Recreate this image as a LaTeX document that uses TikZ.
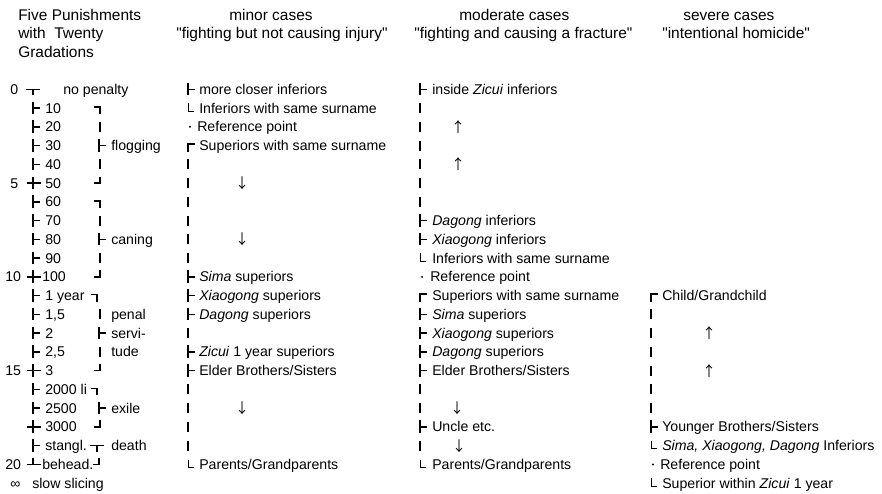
\documentclass[tikz,border=0pt]{standalone}
\usepackage{fontspec}
\setmainfont{Liberation Sans}
\newfontfamily\cjk{Noto Sans CJK JP}
\usetikzlibrary{arrows.meta}
\newcommand{\rowy}[1]{89.3+18.76*#1}
\newcommand{\qq}[1]{\textquotedbl#1\textquotedbl}
\tikzset{
  boxline/.style={line width=1.1pt},
  boxthin/.style={line width=.6pt},
  body/.style={inner sep=0pt,anchor=base west,font=\fontsize{10.6}{12}\selectfont},
  head/.style={inner sep=0pt,anchor=base west,font=\fontsize{11.6}{14}\selectfont},
  arrowmark/.style={inner sep=0pt,font=\cjk\fontsize{10.5}{10.5}\selectfont},
  vbar/.pic={\draw[boxline] (0,-5) -- (0,5);},
  tee/.pic={\draw[boxline] (0,-6.5) -- (0,6) (0,0) -- (7,0);},
  cross/.pic={\draw[boxline] (0,-6.5) -- (0,6) (-6,0) -- (8,0);},
  tdown/.pic={\draw[boxline] (-7,0) -- (7,0) (0,0) -- (0,6);},
  tup/.pic={\draw[boxline] (-6,0) -- (8,0) (0,0) -- (0,-6.5);},
  ctl/.pic={\draw[boxline] (0,6) -- (0,-1.5) -- (7,-1.5);},
  ctr/.pic={\draw[boxline] (-6,-1) -- (0,-1) -- (0,6);},
  cbr/.pic={\draw[boxline] (0,-6.5) -- (0,0) -- (-6,0);},
  ell/.pic={\draw[boxthin] (0,-5) -- (0,3) -- (6,3);},
  refdot/.pic={\fill (2,0) circle[radius=1.1];}
}
\begin{document}
\begin{tikzpicture}[x=0.75pt,y=-0.75pt]
\useasboundingbox (0,0) rectangle (882,493);
% headings
\node[head] (punish1) at (18,20.5) {Five Punishments};
\node[head] (punish2) at (18,38.8) {with\ \ Twenty};
\node[head] (punish3) at (18,57.2) {Gradations};
\node[head] (minorhead) at (229,20.5) {minor cases};
\node[head] (minorcase) at (176,38.8) {\qq{fighting but not causing injury}};
\node[head] (modhead) at (459,20.5) {moderate cases};
\node[head] (modcase) at (414,38.8) {\qq{fighting and causing a fracture}};
\node[head] (sevhead) at (683,20.5) {severe cases};
\node[head] (sevcase) at (662,38.8) {\qq{intentional homicide}};
% five punishments, twenty gradations
\foreach \r/\x/\t in {0/10/0,5/10/5,10/5/10,15/5/15,20/5/20,21/10/∞}
  \node[body] (num\r) at (\x,{\rowy{\r}+5}) {\t};
\foreach \r/\x/\t in {0/63/no penalty,1/45/10,2/45/20,3/45/30,4/45/40,5/45/50,6/45/60,7/45/70,8/45/80,9/45/90,10/42/100,
  11/45/1 year,12/45/{1,5},13/45/2,14/45/{2,5},15/45/3,16/45/2000 li,17/45/2500,18/45/3000,19/45/stangl.,20/42/behead.,21/32/slow slicing}
  \node[body] (grade\r) at (\x,{\rowy{\r}+5}) {\t};
\foreach \r/\g in {0/tdown,1/tee,2/tee,3/tee,4/tee,5/cross,6/tee,7/tee,8/tee,9/tee,10/cross,
  11/tee,12/tee,13/tee,14/tee,15/cross,16/tee,17/tee,18/cross,19/tee,20/tup}
  \pic at (33,{\rowy{\r}}) {\g};
\foreach \r/\x/\g in {1/100/ctr,2/100/vbar,3/99/tee,4/100/vbar,5/100/cbr,6/100/ctr,7/100/vbar,8/99/tee,9/100/vbar,10/100/cbr,
  11/97/ctr,12/100/vbar,13/99/tee,14/100/vbar,15/100/cbr,16/97/ctr,17/99/tee,18/100/cbr,19/97/tdown,20/99/cbr}
  \pic at (\x,{\rowy{\r}}) {\g};
\foreach \r/\t in {3/flogging,8/caning,12/penal,13/servi-,14/tude,17/exile,19/death}
  \node[body] (kind\r) at (111,{\rowy{\r}+5}) {\t};
% minor cases
\foreach \r/\g in {0/tee,1/ell,2/refdot,3/ctl,4/vbar,5/vbar,6/vbar,7/vbar,8/vbar,9/vbar,10/tee,11/tee,12/tee,
  13/vbar,14/tee,15/tee,16/vbar,17/vbar,18/vbar,19/vbar,20/ell}
  \pic at (188,{\rowy{\r}}) {\g};
\foreach \r/\x/\t in {0/199/more closer inferiors,1/199/Inferiors with same surname,2/197/Reference point,
  3/199/Superiors with same surname,10/199/\emph{Sima} superiors,11/199/\emph{Xiaogong} superiors,
  12/199/\emph{Dagong} superiors,14/199/\emph{Zicui} 1 year superiors,15/199/{Elder Brothers/Sisters},
  20/199/{Parents/Grandparents}}
  \node[body] (minor\r) at (\x,{\rowy{\r}+5}) {\t};
% moderate cases
\foreach \r/\g in {0/tee,1/vbar,2/vbar,3/vbar,4/vbar,5/vbar,6/vbar,7/tee,8/tee,9/ell,10/refdot,11/ctl,12/tee,
  13/tee,14/tee,15/tee,16/vbar,17/vbar,18/tee,19/vbar,20/ell}
  \pic at (420,{\rowy{\r}}) {\g};
\foreach \r/\x/\t in {0/432/inside \emph{Zicui} inferiors,7/432/\emph{Dagong} inferiors,8/432/\emph{Xiaogong} inferiors,
  9/432/Inferiors with same surname,10/430/Reference point,11/432/Superiors with same surname,
  12/432/\emph{Sima} superiors,13/432/\emph{Xiaogong} superiors,14/432/\emph{Dagong} superiors,
  15/432/{Elder Brothers/Sisters},18/432/Uncle etc.,20/432/{Parents/Grandparents}}
  \node[body] (mod\r) at (\x,{\rowy{\r}+5}) {\t};
% severe cases
\foreach \r/\g in {11/ctl,12/vbar,13/vbar,14/vbar,15/vbar,16/vbar,17/vbar,18/tee,19/ell,20/refdot,21/ell}
  \pic at (651,{\rowy{\r}}) {\g};
\foreach \r/\x/\t in {11/662/{Child/Grandchild},18/662/{Younger Brothers/Sisters},
  19/662/{\emph{Sima, Xiaogong, Dagong} Inferiors},20/660/Reference point,21/662/Superior within \emph{Zicui} 1 year}
  \node[body] (sev\r) at (\x,{\rowy{\r}+5}) {\t};
% direction of gradation
\foreach \x/\r/\a in {242/5/↓,242/8/↓,242/17/↓,458/2/↑,458/4/↑,457/17/↓,459/19/↓,709/13/↑,709/15/↑}
  \node[arrowmark] (arr\x-\r) at (\x,{\rowy{\r}}) {\a};
\end{tikzpicture}
\end{document}
